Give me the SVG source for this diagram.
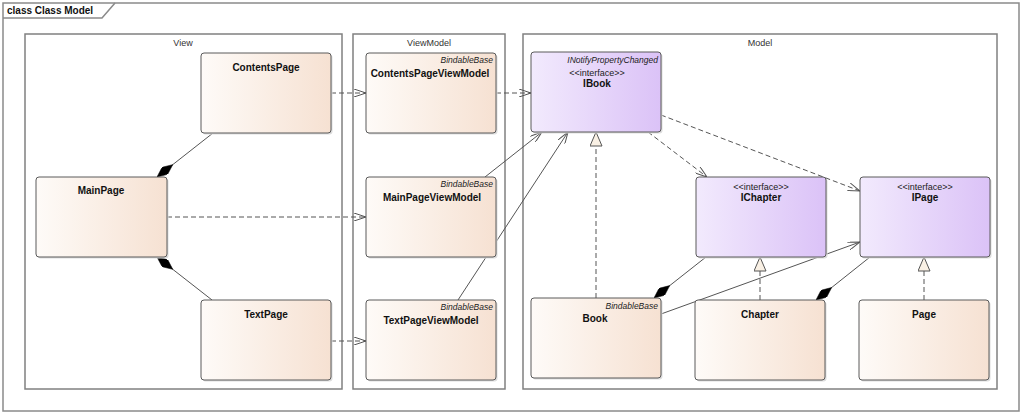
<svg xmlns="http://www.w3.org/2000/svg" width="1024" height="415" viewBox="0 0 1024 415">
<style>
.frame{fill:none;stroke:#8a8a8a;stroke-width:1.5}
.pkg{fill:none;stroke:#808080;stroke-width:1.5}
.pkgl{font-family:"Liberation Sans",Arial,sans-serif;font-size:9px;fill:#333;text-anchor:middle}
.cls{fill:url(#gC);stroke:#5a5a5a;stroke-width:1}
.itf{fill:url(#gI);stroke:#5a5a5a;stroke-width:1}
.sh{fill:#dedede}
.nm{font-family:"Liberation Sans",Arial,sans-serif;font-size:10px;font-weight:bold;fill:#111;text-anchor:middle}
.st{font-family:"Liberation Sans",Arial,sans-serif;font-size:9px;fill:#222;text-anchor:middle}
.base{font-family:"Liberation Sans",Arial,sans-serif;font-size:8.5px;font-style:italic;fill:#222;text-anchor:end}
.dep{fill:none;stroke:#555;stroke-width:1;stroke-dasharray:5,3;marker-end:url(#open)}
.asc{fill:none;stroke:#555;stroke-width:1;marker-end:url(#open)}
.cmp{fill:none;stroke:#555;stroke-width:1;marker-end:url(#dia)}
.rel{fill:none;stroke:#555;stroke-width:1;stroke-dasharray:5,3;marker-end:url(#tri)}
</style>
<defs>
<linearGradient id="gC" x1="0" y1="0" x2="1" y2="0">
<stop offset="0" stop-color="#fefbf8"/><stop offset="1" stop-color="#f6e1d2"/>
</linearGradient>
<linearGradient id="gI" x1="0" y1="0" x2="1" y2="0">
<stop offset="0" stop-color="#f2eafd"/><stop offset="1" stop-color="#dbc2f7"/>
</linearGradient>
<marker id="open" viewBox="0 0 12 8" refX="12" refY="4" markerWidth="12" markerHeight="8" markerUnits="userSpaceOnUse" orient="auto">
<path d="M0,0 L12,4 L0,8" fill="none" stroke="#555" stroke-width="1"/>
</marker>
<marker id="dia" viewBox="0 0 20 9" refX="20" refY="4.5" markerWidth="20" markerHeight="9" markerUnits="userSpaceOnUse" orient="auto">
<path d="M0,4.5 L10,0 L20,4.5 L10,9 Z" fill="#000" stroke="#000" stroke-width="0.5"/>
</marker>
<marker id="tri" viewBox="0 0 15 13" refX="14.5" refY="6.5" markerWidth="15" markerHeight="13" markerUnits="userSpaceOnUse" orient="auto">
<path d="M0.5,0.5 L14.5,6.5 L0.5,12.5 Z" fill="#f9f0e4" stroke="#555" stroke-width="1"/>
</marker>
</defs>
<rect width="1024" height="415" fill="#fff"/>
<g id="frame">
<rect class="frame" x="3" y="3" width="1016" height="408"/>
<path class="frame" d="M3,18 L102,18 L115,3"/>
<text x="7" y="14" font-family="'Liberation Sans',Arial,sans-serif" font-size="10" font-weight="bold" fill="#111">class Class Model</text>
</g>
<g id="pkg-view">
<rect class="pkg" x="25" y="34" width="317" height="355"/>
<text class="pkgl" x="183" y="46">View</text>
</g>
<g id="pkg-viewmodel">
<rect class="pkg" x="353" y="34" width="152" height="355"/>
<text class="pkgl" x="429" y="46">ViewModel</text>
</g>
<g id="pkg-model">
<rect class="pkg" x="523" y="34" width="474" height="355"/>
<text class="pkgl" x="760" y="46">Model</text>
</g>
<g id="connectors">
<path class="dep" d="M331,93 L366,93"/>
<path class="dep" d="M496,93 L531,93"/>
<path class="dep" d="M167,217 L366,217"/>
<path class="dep" d="M331,341 L366,341"/>
<path class="cmp" d="M213,133 L157,177"/>
<path class="cmp" d="M212,300 L157,257"/>
<path class="asc" d="M485,177 L542,132"/>
<path class="asc" d="M458,300 L568,132"/>
<path class="rel" d="M596,298 L596,132"/>
<path class="dep" d="M648,132 L707,177"/>
<path class="dep" d="M661,115 L860,191"/>
<path class="asc" d="M661,314 L860,242"/>
<path class="cmp" d="M706,257 L654,298"/>
<path class="cmp" d="M870,257 L816,300"/>
<path class="rel" d="M760,300 L760,257"/>
<path class="rel" d="M924,300 L924,257"/>
</g>
<g id="ContentsPage">
<rect class="sh" x="202.5" y="54.5" width="130" height="80" rx="3"/>
<rect class="cls" x="201" y="53" width="130" height="80" rx="3"/>
<text class="nm" x="266" y="71">ContentsPage</text>
</g>
<g id="MainPage">
<rect class="sh" x="37.5" y="178.5" width="131" height="80" rx="3"/>
<rect class="cls" x="36" y="177" width="131" height="80" rx="3"/>
<text class="nm" x="101" y="194">MainPage</text>
</g>
<g id="TextPage">
<rect class="sh" x="202.5" y="301.5" width="130" height="80" rx="3"/>
<rect class="cls" x="201" y="300" width="130" height="80" rx="3"/>
<text class="nm" x="266" y="318">TextPage</text>
</g>
<g id="ContentsPageViewModel">
<rect class="sh" x="367.5" y="54.5" width="130" height="80" rx="3"/>
<rect class="cls" x="366" y="53" width="130" height="80" rx="3"/>
<text class="base" x="493" y="63">BindableBase</text>
<text class="nm" x="430" y="77">ContentsPageViewModel</text>
</g>
<g id="MainPageViewModel">
<rect class="sh" x="367.5" y="178.5" width="130" height="80" rx="3"/>
<rect class="cls" x="366" y="177" width="130" height="80" rx="3"/>
<text class="base" x="493" y="187">BindableBase</text>
<text class="nm" x="432" y="201">MainPageViewModel</text>
</g>
<g id="TextPageViewModel">
<rect class="sh" x="367.5" y="301.5" width="130" height="80" rx="3"/>
<rect class="cls" x="366" y="300" width="130" height="80" rx="3"/>
<text class="base" x="493" y="310">BindableBase</text>
<text class="nm" x="431" y="324">TextPageViewModel</text>
</g>
<g id="IBook">
<rect class="sh" x="532.5" y="53.5" width="130" height="80" rx="3"/>
<rect class="itf" x="531" y="52" width="130" height="80" rx="3"/>
<text class="base" x="658" y="63">INotifyPropertyChanged</text>
<text class="st" x="597" y="76">&lt;&lt;interface&gt;&gt;</text>
<text class="nm" x="597" y="87">IBook</text>
</g>
<g id="IChapter">
<rect class="sh" x="697.5" y="178.5" width="130" height="80" rx="3"/>
<rect class="itf" x="696" y="177" width="130" height="80" rx="3"/>
<text class="st" x="761" y="190">&lt;&lt;interface&gt;&gt;</text>
<text class="nm" x="761" y="201">IChapter</text>
</g>
<g id="IPage">
<rect class="sh" x="861.5" y="178.5" width="130" height="80" rx="3"/>
<rect class="itf" x="860" y="177" width="130" height="80" rx="3"/>
<text class="st" x="925" y="190">&lt;&lt;interface&gt;&gt;</text>
<text class="nm" x="925" y="201">IPage</text>
</g>
<g id="Book">
<rect class="sh" x="532.5" y="299.5" width="130" height="80" rx="3"/>
<rect class="cls" x="531" y="298" width="130" height="80" rx="3"/>
<text class="base" x="658" y="309">BindableBase</text>
<text class="nm" x="595" y="322">Book</text>
</g>
<g id="Chapter">
<rect class="sh" x="696.5" y="301.5" width="130" height="80" rx="3"/>
<rect class="cls" x="695" y="300" width="130" height="80" rx="3"/>
<text class="nm" x="760" y="318">Chapter</text>
</g>
<g id="Page">
<rect class="sh" x="860.5" y="301.5" width="130" height="80" rx="3"/>
<rect class="cls" x="859" y="300" width="130" height="80" rx="3"/>
<text class="nm" x="924" y="318">Page</text>
</g>
</svg>
